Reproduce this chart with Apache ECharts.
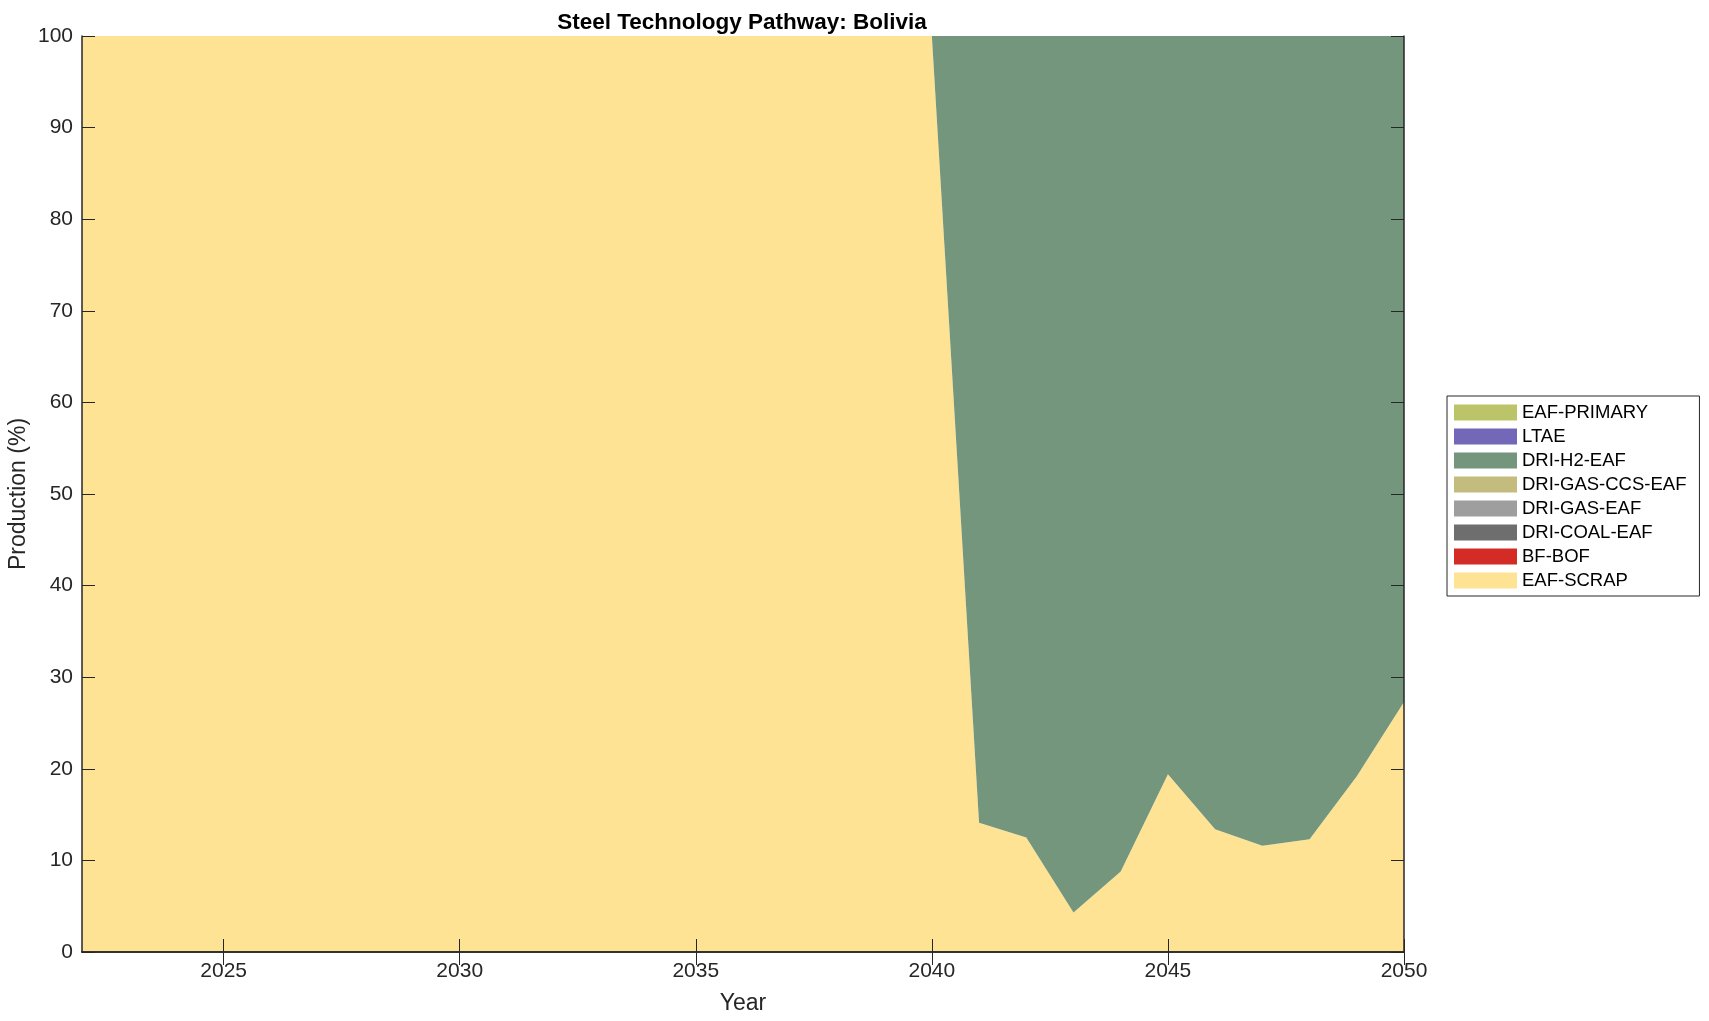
<!DOCTYPE html>
<html>
<head>
<meta charset="utf-8">
<title>Steel Technology Pathway: Bolivia</title>
<script src="https://cdn.jsdelivr.net/npm/echarts@6/dist/echarts.min.js"></script>
<style>
  html, body { margin: 0; padding: 0; background: #fff; }
  #chart { width: 1709px; height: 1021px; }
</style>
</head>
<body>
<div id="chart"></div>
<script>
const years = [2022, 2023, 2024, 2025, 2026, 2027, 2028, 2029, 2030, 2031,
  2032, 2033, 2034, 2035, 2036, 2037, 2038, 2039, 2040, 2041,
  2042, 2043, 2044, 2045, 2046, 2047, 2048, 2049, 2050]

// production share (%) per technology
const eafScrap = [100, 100, 100, 100, 100, 100, 100, 100, 100, 100,
  100, 100, 100, 100, 100, 100, 100, 100, 100, 14.1,
  12.5, 4.3, 8.8, 19.4, 13.4, 11.6, 12.3, 19.2, 27.3]
const bfBof = [0, 0, 0, 0, 0, 0, 0, 0, 0, 0, 0, 0, 0, 0, 0, 0, 0, 0, 0, 0, 0, 0, 0, 0, 0, 0, 0, 0, 0]
const driCoalEaf = [0, 0, 0, 0, 0, 0, 0, 0, 0, 0, 0, 0, 0, 0, 0, 0, 0, 0, 0, 0, 0, 0, 0, 0, 0, 0, 0, 0, 0]
const driGasEaf = [0, 0, 0, 0, 0, 0, 0, 0, 0, 0, 0, 0, 0, 0, 0, 0, 0, 0, 0, 0, 0, 0, 0, 0, 0, 0, 0, 0, 0]
const driGasCcsEaf = [0, 0, 0, 0, 0, 0, 0, 0, 0, 0, 0, 0, 0, 0, 0, 0, 0, 0, 0, 0, 0, 0, 0, 0, 0, 0, 0, 0, 0]
const driH2Eaf = [0, 0, 0, 0, 0, 0, 0, 0, 0, 0,
  0, 0, 0, 0, 0, 0, 0, 0, 0, 85.9,
  87.5, 95.7, 91.2, 80.6, 86.6, 88.4, 87.7, 80.8, 72.7]
const ltae = [0, 0, 0, 0, 0, 0, 0, 0, 0, 0, 0, 0, 0, 0, 0, 0, 0, 0, 0, 0, 0, 0, 0, 0, 0, 0, 0, 0, 0]
const eafPrimary = [0, 0, 0, 0, 0, 0, 0, 0, 0, 0, 0, 0, 0, 0, 0, 0, 0, 0, 0, 0, 0, 0, 0, 0, 0, 0, 0, 0, 0]

// bottom of the stack first
const techs = [
  { name: 'EAF-SCRAP', data: eafScrap, color: '#FFE394' },
  { name: 'BF-BOF', data: bfBof, color: '#D32B26' },
  { name: 'DRI-COAL-EAF', data: driCoalEaf, color: '#6E6E6E' },
  { name: 'DRI-GAS-EAF', data: driGasEaf, color: '#9E9E9E' },
  { name: 'DRI-GAS-CCS-EAF', data: driGasCcsEaf, color: '#C4BC7E' },
  { name: 'DRI-H2-EAF', data: driH2Eaf, color: '#74967D' },
  { name: 'LTAE', data: ltae, color: '#7367B8' },
  { name: 'EAF-PRIMARY', data: eafPrimary, color: '#BCC46A' }
]

const FONT = '"Liberation Sans", Arial, Helvetica, sans-serif'
const INK = '#262626'
const showEvery5 = (idx, val) => Number(val) % 5 === 0

// shared look of the box axes (ticks point inward like matlab)
const axisLine = { show: true, lineStyle: { color: INK, width: 1.5 } }
const axisTick = { show: true, inside: true, length: 13, lineStyle: { color: INK, width: 1 } }

const chart = echarts.init(document.getElementById('chart'))

chart.setOption({
  animation: false,
  backgroundColor: '#fff',
  textStyle: { fontFamily: FONT, color: INK },
  title: {
    text: 'Steel Technology Pathway: Bolivia',
    left: 737,
    textAlign: 'center',
    top: 6,
    textStyle: { fontFamily: FONT, fontSize: 22.5, fontWeight: 'bold', color: '#000' }
  },
  legend: {
    orient: 'vertical',
    left: 1447,
    top: 396,
    data: techs.map(t => t.name).reverse(),
    icon: 'rect',
    itemWidth: 63,
    itemHeight: 16,
    itemGap: 5,
    padding: [7, 13, 6, 7],
    borderColor: INK,
    borderWidth: 1,
    borderRadius: 0,
    textStyle: { fontFamily: FONT, fontSize: 18.5, color: '#000' }
  },
  grid: { left: 82, top: 36, width: 1322, height: 916, outerBoundsMode: 'none' },
  xAxis: [
    {
      type: 'category',
      data: years,
      boundaryGap: false,
      z: 10,
      name: 'Year',
      nameLocation: 'middle',
      nameGap: 40,
      nameMoveOverlap: false,
      nameTextStyle: { fontFamily: FONT, fontSize: 23, color: INK },
      axisLine,
      axisTick: Object.assign({ interval: showEvery5 }, axisTick),
      axisLabel: { interval: showEvery5, margin: 9, fontFamily: FONT, fontSize: 21, color: INK },
      splitLine: { show: false }
    },
    {
      type: 'category',
      data: years,
      boundaryGap: false,
      position: 'top',
      z: 10,
      axisLine,
      axisTick: Object.assign({ interval: showEvery5 }, axisTick),
      axisLabel: { show: false },
      splitLine: { show: false }
    }
  ],
  yAxis: [
    {
      type: 'value',
      min: 0,
      max: 100,
      interval: 10,
      z: 10,
      name: 'Production (%)',
      nameLocation: 'middle',
      nameGap: 52,
      nameMoveOverlap: false,
      nameTextStyle: { fontFamily: FONT, fontSize: 23, color: INK },
      axisLine,
      axisTick,
      axisLabel: { margin: 9, fontFamily: FONT, fontSize: 21, color: INK },
      splitLine: { show: false }
    },
    {
      type: 'value',
      min: 0,
      max: 100,
      interval: 10,
      position: 'right',
      z: 10,
      axisLine,
      axisTick,
      axisLabel: { show: false },
      splitLine: { show: false }
    }
  ],
  series: techs.map(t => ({
    name: t.name,
    type: 'line',
    stack: 'total',
    data: t.data,
    color: t.color,
    itemStyle: { color: t.color },
    showSymbol: false,
    symbol: 'none',
    lineStyle: { width: 0, color: t.color },
    areaStyle: { color: t.color, opacity: 1 },
    emphasis: { disabled: true },
    z: 1
  }))
})
</script>
</body>
</html>
